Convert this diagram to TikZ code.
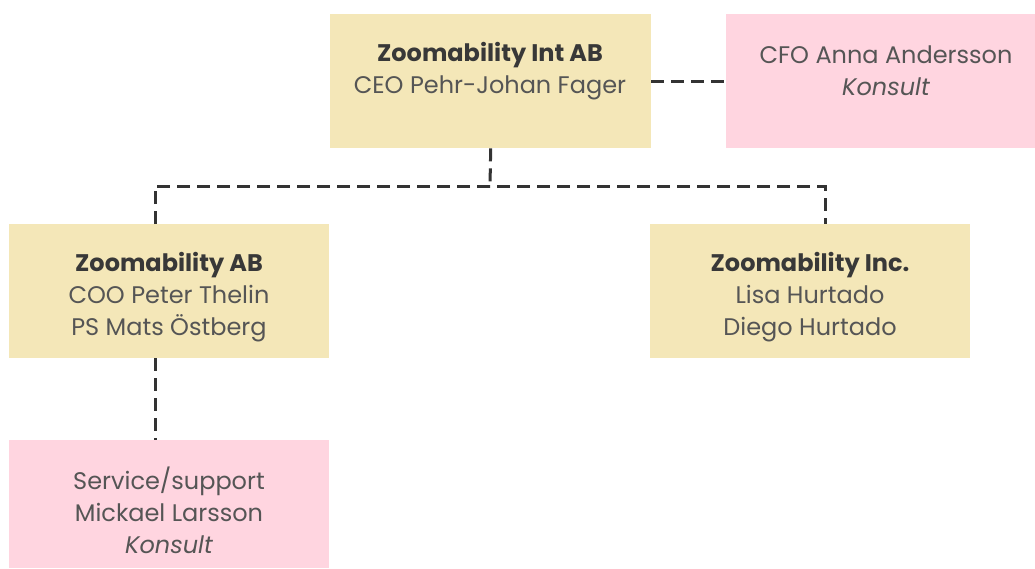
\documentclass[tikz,border=0pt]{standalone}
\usepackage{fontspec}
\setmainfont{Poppins}
\usetikzlibrary{calc}
\definecolor{boxy}{HTML}{F4E7B8}
\definecolor{boxp}{HTML}{FFD5E0}
\definecolor{txt}{HTML}{555555}
\definecolor{ttl}{HTML}{383838}
\definecolor{ln}{HTML}{333333}
\tikzset{
  x=1pt,y=-1pt,
  orgbox/.style={draw=none,rectangle,inner sep=0pt,anchor=north west},
  yel/.style={orgbox,fill=boxy},
  pnk/.style={orgbox,fill=boxp},
  lbl/.style={anchor=center,align=center,text=txt,font=\fontsize{24}{32}\selectfont},
  conn/.style={draw=ln,line width=3pt,dash pattern=on 13pt off 7pt},
}
\newcommand{\ttlt}[1]{{\color{ttl}\bfseries #1}}
\begin{document}
\begin{tikzpicture}
\useasboundingbox (0,0) rectangle (1035,568);
\node[yel,minimum width=321pt,minimum height=134pt] (top) at (330,14) {};
\node[pnk,minimum width=309pt,minimum height=134pt] (cfo) at (726,14) {};
\node[yel,minimum width=320pt,minimum height=134pt] (ab) at (9,224) {};
\node[yel,minimum width=320pt,minimum height=134pt] (inc) at (650,224) {};
\node[pnk,minimum width=320pt,minimum height=128pt] (svc) at (9,440) {};

\node[lbl] (toplbl) at (490,71) {\ttlt{Zoomability Int AB}\\CEO Pehr-Johan Fager};
\node[lbl] (cfolbl) at (886,71) {CFO Anna Andersson\\\itshape Konsult};
\node[lbl] (ablbl) at (169,297) {\ttlt{Zoomability AB}\\COO Peter Thelin\\PS Mats Östberg};
\node[lbl] (inclbl) at (810,297) {\ttlt{Zoomability Inc.}\\Lisa Hurtado\\Diego Hurtado};
\node[lbl] (svclbl) at (169,510) {Service/support\\Mickael Larsson\\\itshape Konsult};

\coordinate (mid) at (490,186);
\coordinate (abtop) at ($(ab.north west)+(146,0)$);
\coordinate (inctop) at ($(inc.north west)+(175,0)$);
\coordinate (abbot) at ($(ab.south west)+(146,0)$);
\coordinate (svctop) at ($(svc.north west)+(146,0)$);
\coordinate (topr) at ($(top.north east)+(0,67)$);
\coordinate (cfol) at ($(cfo.north west)+(0,67)$);

\draw[conn] (top.south) -- (mid);
\draw[conn] (abtop) |- (mid) -| (inctop);
\draw[conn] (abbot) -- (svctop);
\draw[conn] (topr) -- (cfol);
\end{tikzpicture}
\end{document}
